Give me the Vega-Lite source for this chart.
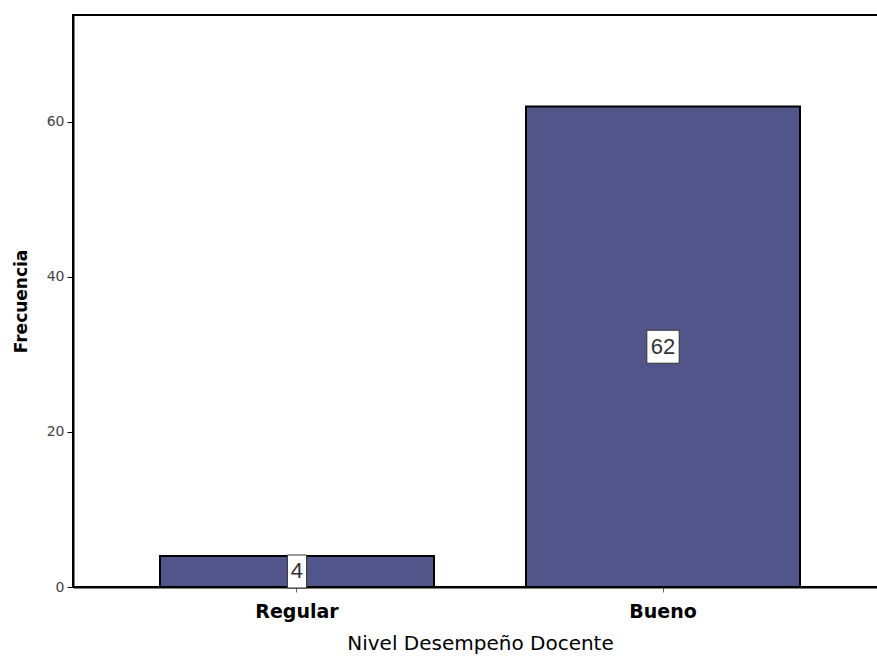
{
  "$schema": "https://vega.github.io/schema/vega-lite/v6.json",
  "width": 805,
  "height": 572,
  "autosize": {"type": "none"},
  "padding": {"left": 73, "top": 15, "right": 0, "bottom": 71},
  "background": "white",
  "config": {
    "view": {"stroke": "black", "strokeWidth": 2},
    "font": "DejaVu Sans"
  },
  "data": {"values": [
    {"Nivel": "Regular", "Frecuencia": 4},
    {"Nivel": "Bueno", "Frecuencia": 62}
  ]},
  "resolve": {"scale": {"y": "independent"}},
  "encoding": {
    "x": {
      "field": "Nivel", "type": "nominal", "sort": ["Regular", "Bueno"],
      "scale": {"range": [0, 814], "paddingInner": 0.2514, "paddingOuter": 0.2377},
      "axis": {
        "title": "Nivel Desempeño Docente", "titleX": 407,
        "titleFont": "DejaVu Sans", "titleFontSize": 20, "titleFontWeight": "normal", "titleColor": "black",
        "titlePadding": 12,
        "labelFont": "DejaVu Sans", "labelFontSize": 19, "labelFontWeight": "bold", "labelColor": "black",
        "labelAngle": 0, "labelPadding": 10,
        "tickSize": 5, "tickColor": "#666", "tickWidth": 1,
        "domainColor": "black", "domainWidth": 2
      }
    }
  },
  "layer": [
    {
      "mark": {"type": "bar", "color": "#52558a", "stroke": "black", "strokeWidth": 2},
      "encoding": {
        "y": {
          "field": "Frecuencia", "type": "quantitative",
          "scale": {"domain": [0, 73.8], "nice": false},
          "axis": {
            "title": "Frecuencia", "values": [0, 20, 40, 60], "grid": false,
            "titleFont": "DejaVu Sans", "titleFontSize": 17, "titleFontWeight": "bold", "titleColor": "black",
            "titlePadding": 16,
            "labelFont": "DejaVu Sans", "labelFontSize": 14, "labelColor": "#444", "labelPadding": 3,
            "tickSize": 6, "tickColor": "black", "tickWidth": 1,
            "domainColor": "black", "domainWidth": 2
          }
        }
      }
    },
    {
      "layer": [
        {
          "mark": {"type": "point", "filled": true, "fill": "white", "stroke": "#333", "strokeWidth": 1, "opacity": 1, "size": 1089,
            "shape": "M-0.58,-1H0.58V1H-0.58Z"},
          "transform": [{"filter": "datum.Frecuencia < 10"}],
          "encoding": {
            "y": {"field": "Frecuencia", "type": "quantitative", "scale": {"domain": [0, 147.6], "nice": false}, "axis": null}
          }
        },
        {
          "mark": {"type": "point", "filled": true, "fill": "white", "stroke": "#333", "strokeWidth": 1, "opacity": 1, "size": 1089,
            "shape": "M-0.98,-1H0.98V1H-0.98Z"},
          "transform": [{"filter": "datum.Frecuencia >= 10"}],
          "encoding": {
            "y": {"field": "Frecuencia", "type": "quantitative", "scale": {"domain": [0, 147.6], "nice": false}, "axis": null}
          }
        },
        {
          "mark": {"type": "text", "font": "Liberation Sans", "fontSize": 22, "color": "#333", "baseline": "middle", "align": "center"},
          "encoding": {
            "y": {"field": "Frecuencia", "type": "quantitative", "scale": {"domain": [0, 147.6], "nice": false}, "axis": null},
            "text": {"field": "Frecuencia", "type": "quantitative"}
          }
        }
      ]
    }
  ]
}
